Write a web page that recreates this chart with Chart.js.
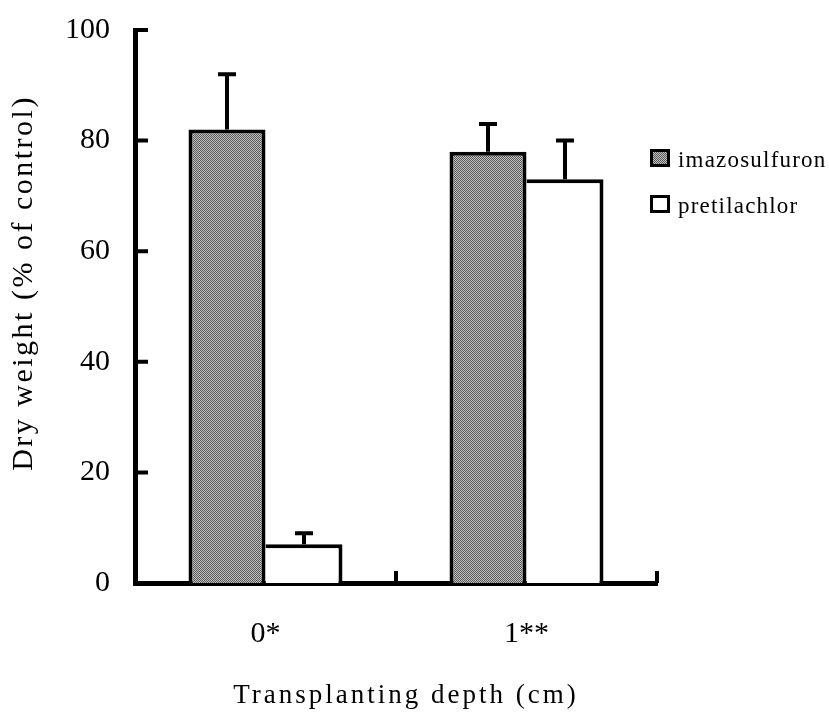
<!DOCTYPE html>
<html>
<head>
<meta charset="utf-8">
<script src="https://cdn.jsdelivr.net/npm/chart.js@4.4.1/dist/chart.umd.min.js"></script>
<style>
  body { margin: 0; background: #fff; }
  #wrap { width: 829px; height: 713px; }
</style>
</head>
<body>
<div id="wrap"><canvas id="dry" width="829" height="713"></canvas></div>
<script>
const depths = ['0*', '1**'];
const imazosulfuron = [82, 78];
const imazosulfuronErr = [10, 5];
const pretilachlor = [7, 73];
const pretilachlorErr = [2, 7];
const yTicks = [0, 20, 40, 60, 80, 100];

const serif = "'Liberation Serif', 'Times New Roman', serif";

// grey dotted fill like the printed bars
let tex = document.createElement('canvas');
tex.width = 2; tex.height = 2;
let t = tex.getContext('2d');
t.fillStyle = '#c2c2c2';
t.fillRect(0, 0, 2, 2);
t.fillStyle = '#585858';
t.fillRect(0, 0, 1, 1);
t.fillRect(1, 1, 1, 1);
const greyFill = t.createPattern(tex, 'repeat');

const errors = [imazosulfuronErr, pretilachlorErr];

// upward error bars
const errorBars = {
  id: 'errorBars',
  afterDatasetsDraw(chart) {
    const ctx = chart.ctx;
    const y = chart.scales.y;
    ctx.save();
    ctx.strokeStyle = '#000';
    ctx.lineWidth = 4;
    chart.data.datasets.forEach((ds, d) => {
      chart.getDatasetMeta(d).data.forEach((bar, i) => {
        const top = y.getPixelForValue(ds.data[i] + errors[d][i]);
        ctx.beginPath();
        ctx.moveTo(bar.x, bar.y);
        ctx.lineTo(bar.x, top);
        ctx.moveTo(bar.x - 9, top);
        ctx.lineTo(bar.x + 9, top);
        ctx.stroke();
      });
    });
    ctx.restore();
  }
};

// inward tick marks, axis titles and legend
const decorations = {
  id: 'decorations',
  afterDraw(chart) {
    const ctx = chart.ctx;
    const x = chart.scales.x;
    const y = chart.scales.y;
    const area = chart.chartArea;
    ctx.save();
    ctx.strokeStyle = '#000';
    ctx.lineWidth = 4;
    ctx.beginPath();
    yTicks.slice(1).forEach(v => {
      const py = y.getPixelForValue(v);
      ctx.moveTo(area.left, py);
      ctx.lineTo(area.left + 13, py);
    });
    const half = (x.getPixelForValue(1) - x.getPixelForValue(0)) / 2;
    depths.forEach((d, i) => {
      const px = x.getPixelForValue(i) + half;
      ctx.moveTo(px, area.bottom);
      ctx.lineTo(px, area.bottom - 12);
    });
    ctx.stroke();

    ctx.fillStyle = '#000';
    ctx.textAlign = 'center';
    ctx.textBaseline = 'alphabetic';
    ctx.letterSpacing = '3px';
    ctx.font = '27px ' + serif;
    ctx.fillText('Transplanting depth (cm)', (area.left + area.right) / 2 + 10, 703);

    ctx.save();
    ctx.translate(32, 283);
    ctx.rotate(-Math.PI / 2);
    ctx.letterSpacing = '2.5px';
    ctx.font = '30px ' + serif;
    ctx.fillText('Dry weight (% of control)', 0, 0);
    ctx.restore();

    ctx.textAlign = 'left';
    ctx.letterSpacing = '1.2px';
    ctx.font = '23px ' + serif;
    chart.data.datasets.forEach((ds, d) => {
      const by = 149 + d * 46;
      ctx.fillStyle = ds.backgroundColor;
      ctx.fillRect(650, by, 20, 18);
      ctx.lineWidth = 3;
      ctx.strokeRect(651.5, by + 1.5, 17, 15);
      ctx.fillStyle = '#000';
      ctx.fillText(ds.label, 678, by + 18);
    });
    ctx.restore();
  }
};

new Chart(document.getElementById('dry'), {
  type: 'bar',
  data: {
    labels: depths,
    datasets: [
      {
        label: 'imazosulfuron',
        data: imazosulfuron,
        backgroundColor: greyFill,
        borderColor: '#000',
        borderWidth: { top: 4, left: 4, right: 4, bottom: 0 },
        borderSkipped: false
      },
      {
        label: 'pretilachlor',
        data: pretilachlor,
        backgroundColor: '#fff',
        borderColor: '#000',
        borderWidth: { top: 4, left: 0, right: 4, bottom: 0 },
        borderSkipped: false
      }
    ]
  },
  options: {
    responsive: false,
    animation: false,
    categoryPercentage: 0.59,
    barPercentage: 1.0,
    layout: { padding: { left: 0, right: 172, top: 30, bottom: 0 } },
    plugins: {
      legend: { display: false },
      tooltip: { enabled: false }
    },
    scales: {
      x: {
        grid: { display: false, drawTicks: false },
        border: { display: true, color: '#000', width: 5 },
        ticks: { color: '#000', padding: 33, font: { family: serif, size: 30 } },
        afterFit(scale) { scale.height = 130; }
      },
      y: {
        min: 0,
        max: 100,
        afterBuildTicks(scale) { scale.ticks = yTicks.map(v => ({ value: v })); },
        grid: { display: false, drawTicks: false },
        border: { display: true, color: '#000', width: 5 },
        ticks: { color: '#000', padding: 25, font: { family: serif, size: 30 } },
        afterFit(scale) {
          scale.width = 135;
          scale.paddingTop = 0;
          scale.paddingBottom = 0;
        }
      }
    }
  },
  plugins: [errorBars, decorations]
});
</script>
</body>
</html>
